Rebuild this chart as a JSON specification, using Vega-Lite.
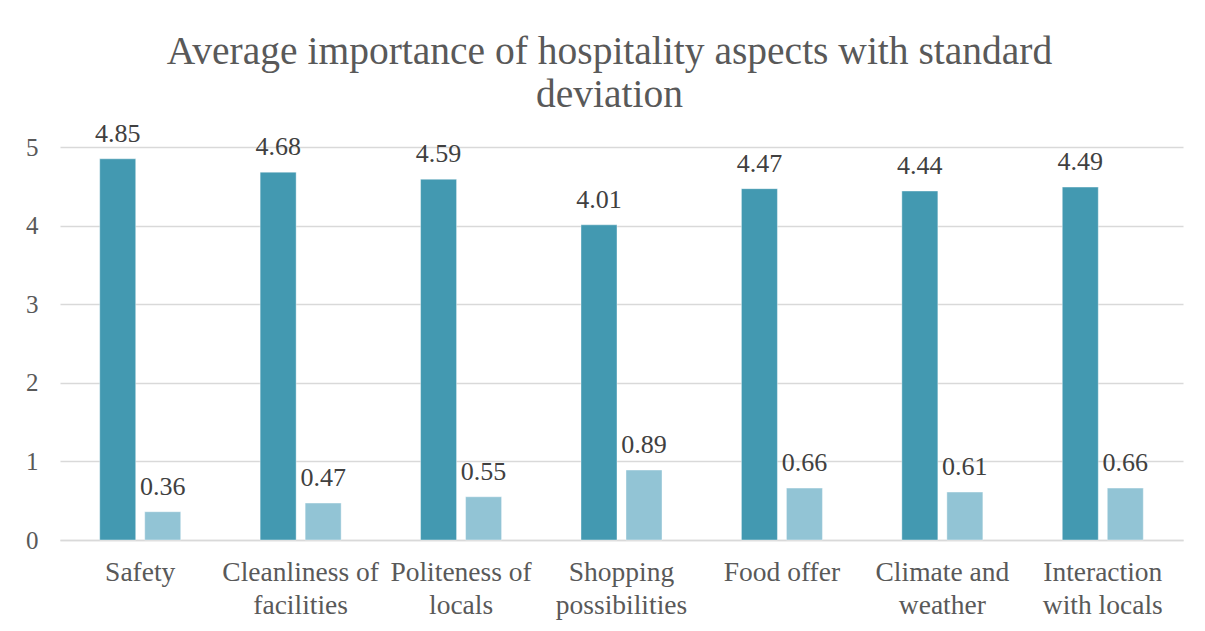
{
  "$schema": "https://vega.github.io/schema/vega-lite/v6.json",
  "width": 1123,
  "height": 393,
  "autosize": "none",
  "padding": {"left": 60, "top": 147, "right": 22, "bottom": 91},
  "background": "white",
  "title": {
    "text": ["Average importance of hospitality aspects with standard", "deviation"],
    "font": "Liberation Serif",
    "fontSize": 39.5,
    "fontWeight": "normal",
    "color": "#595959",
    "lineHeight": 43,
    "anchor": "middle",
    "frame": "group",
    "dx": -12,
    "offset": 5
  },
  "data": {
    "values": [
      {"aspect": "Safety", "series": "Mean", "value": 4.85},
      {"aspect": "Safety", "series": "Std. deviation", "value": 0.36},
      {"aspect": "Cleanliness of facilities", "series": "Mean", "value": 4.68},
      {"aspect": "Cleanliness of facilities", "series": "Std. deviation", "value": 0.47},
      {"aspect": "Politeness of locals", "series": "Mean", "value": 4.59},
      {"aspect": "Politeness of locals", "series": "Std. deviation", "value": 0.55},
      {"aspect": "Shopping possibilities", "series": "Mean", "value": 4.01},
      {"aspect": "Shopping possibilities", "series": "Std. deviation", "value": 0.89},
      {"aspect": "Food offer", "series": "Mean", "value": 4.47},
      {"aspect": "Food offer", "series": "Std. deviation", "value": 0.66},
      {"aspect": "Climate and weather", "series": "Mean", "value": 4.44},
      {"aspect": "Climate and weather", "series": "Std. deviation", "value": 0.61},
      {"aspect": "Interaction with locals", "series": "Mean", "value": 4.49},
      {"aspect": "Interaction with locals", "series": "Std. deviation", "value": 0.66}
    ]
  },
  "encoding": {
    "x": {
      "field": "aspect",
      "type": "nominal",
      "sort": null,
      "scale": {"paddingInner": 0.495, "paddingOuter": 0.2475},
      "axis": {
        "title": null,
        "labelAngle": 0,
        "labelFont": "Liberation Serif",
        "labelFontSize": 27.5,
        "labelColor": "#595959",
        "labelLineHeight": 33,
        "labelPadding": 18,
        "labelBaseline": "top",
        "labelLimit": 300,
        "ticks": false,
        "domain": true,
        "domainColor": "#D9D9D9",
        "domainWidth": 1.5,
        "grid": false,
        "labelExpr": "datum.label == 'Cleanliness of facilities' ? ['Cleanliness of', 'facilities'] : datum.label == 'Politeness of locals' ? ['Politeness of', 'locals'] : datum.label == 'Shopping possibilities' ? ['Shopping', 'possibilities'] : datum.label == 'Climate and weather' ? ['Climate and', 'weather'] : datum.label == 'Interaction with locals' ? ['Interaction', 'with locals'] : datum.label"
      }
    },
    "xOffset": {
      "field": "series",
      "type": "nominal",
      "scale": {"paddingInner": 0.2, "paddingOuter": 0}
    },
    "y": {
      "field": "value",
      "type": "quantitative",
      "scale": {"domain": [0, 5], "nice": false},
      "axis": {
        "title": null,
        "values": [0, 1, 2, 3, 4, 5],
        "labelFont": "Liberation Serif",
        "labelFontSize": 25,
        "labelColor": "#595959",
        "labelPadding": 22,
        "ticks": false,
        "domain": false,
        "grid": true,
        "gridColor": "#D9D9D9",
        "gridWidth": 1.5
      }
    }
  },
  "layer": [
    {
      "mark": {"type": "bar", "stroke": "#ffffff", "strokeWidth": 0.8, "strokeOpacity": 0.5},
      "encoding": {
        "color": {
          "field": "series",
          "type": "nominal",
          "scale": {"domain": ["Mean", "Std. deviation"], "range": ["#4399B1", "#92C4D5"]},
          "legend": null
        }
      }
    },
    {
      "mark": {"type": "text", "font": "Liberation Serif", "fontSize": 26, "color": "#404040", "baseline": "alphabetic", "dy": -17},
      "encoding": {
        "text": {"field": "value", "type": "quantitative", "format": ".2f"}
      }
    }
  ],
  "config": {
    "view": {"stroke": null}
  }
}
